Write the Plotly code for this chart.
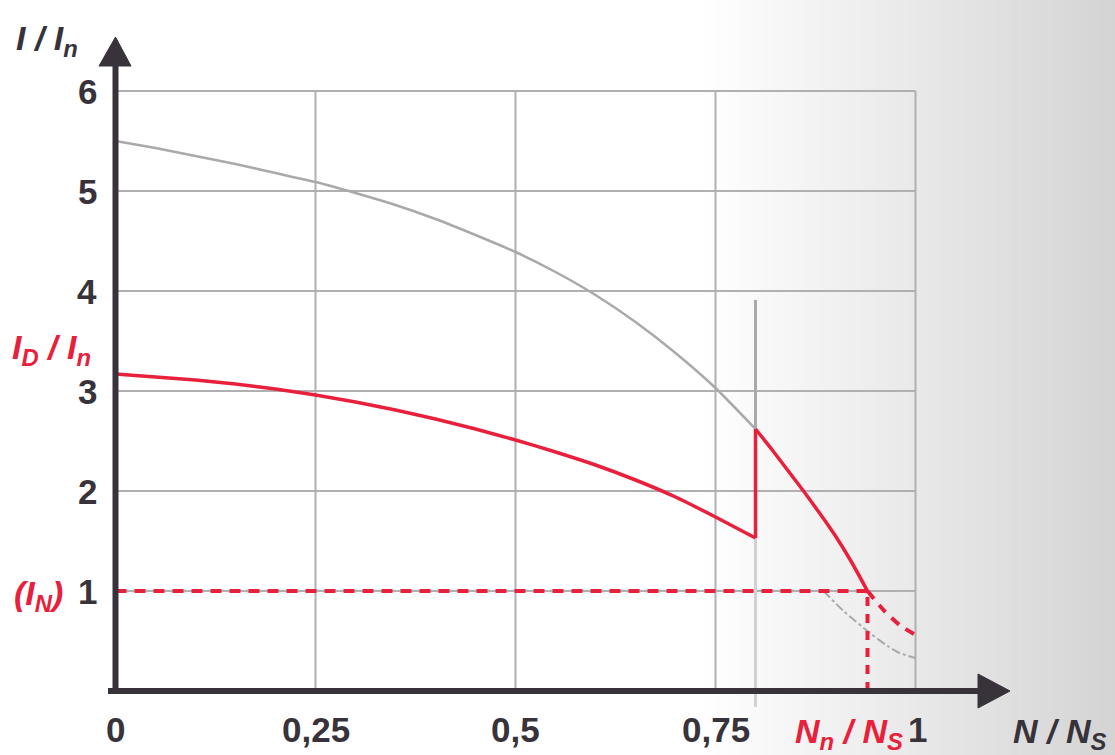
import plotly.graph_objects as go

# ---------------- data ----------------
x_ticks = [0, 0.25, 0.5, 0.75, 1]
x_tick_labels = ["0", "0,25", "0,5", "0,75", "1"]
y_ticks = [1, 2, 3, 4, 5, 6]
y_tick_labels = ["1", "2", "3", "4", "5", "6"]

# direct-on-line starting current (grey)
gray_x = [0, 0.05, 0.1, 0.15, 0.2, 0.25, 0.3, 0.35, 0.4, 0.45, 0.5, 0.55, 0.6, 0.65, 0.7, 0.75, 0.8]
gray_y = [5.5, 5.43, 5.35, 5.27, 5.18, 5.09, 4.98, 4.86, 4.72, 4.56, 4.39, 4.19, 3.96, 3.69, 3.38, 3.03, 2.62]

# current with star-delta starting (red)
red_low_x = [0, 0.05, 0.1, 0.15, 0.2, 0.25, 0.3, 0.35, 0.4, 0.45, 0.5, 0.55, 0.6, 0.65, 0.7, 0.75, 0.8]
red_low_y = [3.17, 3.14, 3.11, 3.07, 3.02, 2.96, 2.89, 2.81, 2.72, 2.62, 2.51, 2.39, 2.26, 2.11, 1.94, 1.74, 1.53]
red_jump_y = 2.62
red_high_x = [0.8, 0.82, 0.84, 0.86, 0.88, 0.9, 0.92, 0.94]
red_high_y = [2.62, 2.42, 2.21, 2.0, 1.78, 1.55, 1.29, 1.0]
red_tail_x = [0.94, 0.96, 0.98, 1.0]
red_tail_y = [1.0, 0.81, 0.66, 0.56]

# grey tail (dash-dot)
gray_tail_x = [0.885, 0.91, 0.943, 0.965, 0.98, 1.0]
gray_tail_y = [1.0, 0.8, 0.58, 0.45, 0.38, 0.33]

switch_x = 0.8        # star-delta switching speed
switch_top = 3.91
rated_speed = 0.94    # Nn / Ns
rated_current = 1.0

RED = "#e8203c"
GRAY = "#a9a9ab"
GRID = "#b0b0b2"
DARK = "#38333a"
FONT = "Liberation Sans"

# pixel mapping helpers (figure is 1115x755, margins 0)
X0PX, XSCALE = 115.5, 800.0
Y0PX, YSCALE = 691.0, 100.0
def px_x(p):
    return (p - X0PX) / XSCALE
def px_y(p):
    return (Y0PX - p) / YSCALE

fig = go.Figure()

shapes = []
# background gradient on the right
n_strips = 80
start_px, end_px = 700, 1115
for i in range(n_strips):
    a = start_px + (end_px - start_px) * i / n_strips
    b = start_px + (end_px - start_px) * (i + 1) / n_strips
    t = (i + 0.5) / n_strips
    c = int(round(255 - 43 * t))
    shapes.append(dict(type="rect", xref="paper", yref="paper",
                       x0=a / 1115, x1=b / 1115 + 0.001, y0=0, y1=1,
                       fillcolor=f"rgb({c},{c},{c})", line=dict(width=0),
                       layer="below"))

# grid
for xv in x_ticks[1:]:
    shapes.append(dict(type="line", xref="x", yref="y", x0=xv, x1=xv,
                       y0=0, y1=y_ticks[-1], line=dict(color=GRID, width=2),
                       layer="below"))
for yv in y_ticks:
    shapes.append(dict(type="line", xref="x", yref="y", x0=0, x1=x_ticks[-1],
                       y0=yv, y1=yv, line=dict(color=GRID, width=2),
                       layer="below"))

# switching vertical line (behind the curves)
shapes.append(dict(type="line", xref="x", yref="y", x0=switch_x, x1=switch_x,
                   y0=red_low_y[-1], y1=switch_top,
                   line=dict(color=GRAY, width=3), layer="below"))
shapes.append(dict(type="line", xref="x", yref="y", x0=switch_x, x1=switch_x,
                   y0=px_y(707), y1=red_low_y[-1],
                   line=dict(color="#d2d2d4", width=3), layer="below"))

# axes with arrows
shapes.append(dict(type="line", xref="x", yref="y", x0=px_x(108), x1=px_x(985),
                   y0=0, y1=0, line=dict(color=DARK, width=6)))
shapes.append(dict(type="line", xref="x", yref="y", x0=0, x1=0,
                   y0=px_y(694), y1=px_y(62), line=dict(color=DARK, width=6)))
shapes.append(dict(type="path", xref="x", yref="y",
                   path=f"M {px_x(99)},{px_y(66)} L {px_x(131)},{px_y(66)} L {px_x(115.5)},{px_y(37)} Z",
                   fillcolor=DARK, line=dict(color=DARK, width=1)))
shapes.append(dict(type="path", xref="x", yref="y",
                   path=f"M {px_x(978)},{px_y(674)} L {px_x(978)},{px_y(708)} L {px_x(1010)},{px_y(691)} Z",
                   fillcolor=DARK, line=dict(color=DARK, width=1)))

# curves
fig.add_trace(go.Scatter(x=gray_x, y=gray_y, mode="lines",
                         line=dict(color=GRAY, width=2.5, shape="spline", smoothing=0.5),
                         hoverinfo="skip", showlegend=False))
fig.add_trace(go.Scatter(x=gray_tail_x, y=gray_tail_y, mode="lines",
                         line=dict(color=GRAY, width=2, dash="dashdot", shape="spline", smoothing=0.5),
                         hoverinfo="skip", showlegend=False))
fig.add_trace(go.Scatter(x=[0, rated_speed], y=[rated_current, rated_current], mode="lines",
                         line=dict(color=RED, width=4, dash="11px,8px"),
                         hoverinfo="skip", showlegend=False))
fig.add_trace(go.Scatter(x=[rated_speed, rated_speed], y=[0, rated_current], mode="lines",
                         line=dict(color=RED, width=4, dash="9px,8px"),
                         hoverinfo="skip", showlegend=False))
fig.add_trace(go.Scatter(x=red_tail_x, y=red_tail_y, mode="lines",
                         line=dict(color=RED, width=4, dash="10px,8px", shape="spline", smoothing=0.5),
                         hoverinfo="skip", showlegend=False))
fig.add_trace(go.Scatter(x=red_low_x, y=red_low_y, mode="lines",
                         line=dict(color=RED, width=3.5, shape="spline", smoothing=0.5),
                         hoverinfo="skip", showlegend=False))
fig.add_trace(go.Scatter(x=[switch_x, switch_x], y=[red_low_y[-1], red_jump_y], mode="lines",
                         line=dict(color=RED, width=3.5),
                         hoverinfo="skip", showlegend=False))
fig.add_trace(go.Scatter(x=red_high_x, y=red_high_y, mode="lines",
                         line=dict(color=RED, width=3.5, shape="spline", smoothing=0.5),
                         hoverinfo="skip", showlegend=False))

ann = []
for xv, lab in zip(x_ticks, x_tick_labels):
    ann.append(dict(x=xv + (px_x(917) - 1 if xv == 1 else 0), y=px_y(729), xref="x", yref="y",
                    text=f"<b>{lab}</b>", showarrow=False,
                    font=dict(family=FONT, size=35, color=DARK),
                    xanchor="center", yanchor="middle"))
for yv, lab in zip(y_ticks, y_tick_labels):
    ann.append(dict(x=px_x(99), y=yv, xref="x", yref="y",
                    text=f"<b>{lab}</b>", showarrow=False,
                    font=dict(family=FONT, size=35, color=DARK),
                    xanchor="right", yanchor="middle"))

# axis titles and red labels
ann.append(dict(x=px_x(14), y=px_y(40), xref="x", yref="y",
                text="<b><i>I / I<sub>n</sub></i></b>", showarrow=False,
                font=dict(family=FONT, size=34, color=DARK),
                xanchor="left", yanchor="middle"))
ann.append(dict(x=px_x(10), y=px_y(349), xref="x", yref="y",
                text="<b><i>I<sub>D</sub> / I<sub>n</sub></i></b>", showarrow=False,
                font=dict(family=FONT, size=34, color=RED),
                xanchor="left", yanchor="middle"))
ann.append(dict(x=px_x(12), y=px_y(595), xref="x", yref="y",
                text="<b><i>(I<sub>N</sub>)</i></b>", showarrow=False,
                font=dict(family=FONT, size=34, color=RED),
                xanchor="left", yanchor="middle"))
ann.append(dict(x=px_x(905), y=px_y(733), xref="x", yref="y",
                text="<b><i>N<sub>n</sub> / N<sub>S</sub></i></b>", showarrow=False,
                font=dict(family=FONT, size=34, color=RED),
                xanchor="right", yanchor="middle"))
ann.append(dict(x=px_x(1108), y=px_y(733), xref="x", yref="y",
                text="<b><i>N / N<sub>S</sub></i></b>", showarrow=False,
                font=dict(family=FONT, size=34, color=DARK),
                xanchor="right", yanchor="middle"))

fig.update_layout(
    shapes=shapes,
    annotations=ann,
    width=1115, height=755,
    margin=dict(l=0, r=0, t=0, b=0),
    paper_bgcolor="white", plot_bgcolor="rgba(0,0,0,0)",
    xaxis=dict(range=[px_x(0), px_x(1115)], visible=False, fixedrange=True),
    yaxis=dict(range=[px_y(755), px_y(0)], visible=False, fixedrange=True),
    showlegend=False,
)

fig.write_html("out.html",
               config={"displayModeBar": False},
               post_script="document.body.style.margin='0';document.body.style.padding='0';")
